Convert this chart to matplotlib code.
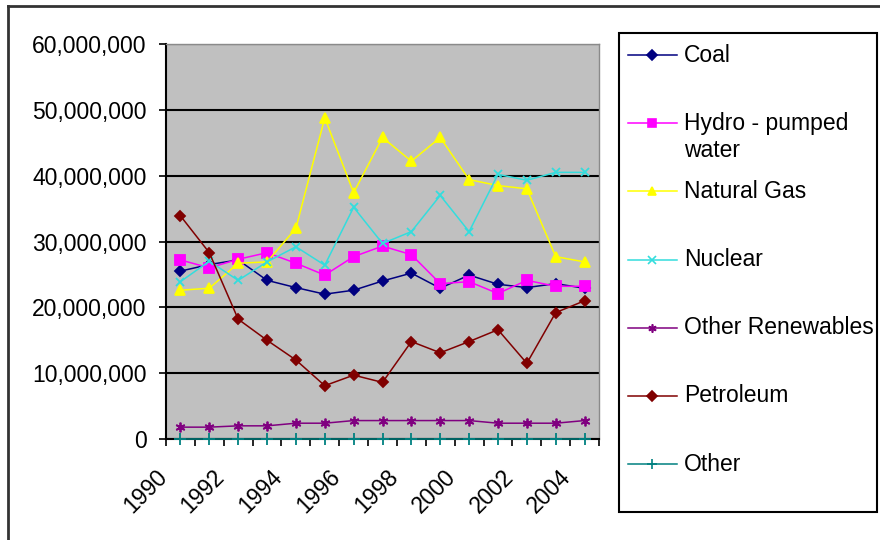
import matplotlib
matplotlib.use("Agg")
from matplotlib import pyplot as plt
from matplotlib.lines import Line2D
from matplotlib.patches import Rectangle
from matplotlib.ticker import FuncFormatter
import matplotlib.transforms as mtransforms
import numpy as np

plt.rcParams['font.family'] = ['Liberation Sans', 'DejaVu Sans']

# Values in millions
years = list(range(1990, 2005))
coal = [25.5, 26.5, 27.2, 24.1, 23.0, 22.0, 22.6, 24.0, 25.2, 22.9, 24.9, 23.5, 23.0, 23.6, 22.9]
hydro = [27.2, 26.0, 27.3, 28.3, 26.7, 24.9, 27.7, 29.3, 28.0, 23.6, 23.9, 22.1, 24.1, 23.2, 23.2]
natural_gas = [22.6, 22.9, 26.7, 26.9, 32.0, 48.8, 37.4, 45.8, 42.2, 45.8, 39.4, 38.5, 38.0, 27.7, 26.9]
nuclear = [23.9, 27.0, 24.1, 26.9, 29.2, 26.4, 35.2, 29.7, 31.5, 37.0, 31.5, 40.2, 39.3, 40.5, 40.5]
other_renewables = [1.8, 1.8, 2.0, 2.0, 2.4, 2.4, 2.8, 2.8, 2.8, 2.8, 2.8, 2.4, 2.4, 2.4, 2.8]
petroleum = [33.9, 28.3, 18.2, 15.0, 12.0, 8.1, 9.7, 8.6, 14.8, 13.1, 14.8, 16.6, 11.5, 19.2, 21.0]
other = [0.0] * 15

series_names = ["Coal", "Hydro - pumped\nwater", "Natural Gas", "Nuclear",
                "Other Renewables", "Petroleum", "Other"]
series_values = [coal, hydro, natural_gas, nuclear, other_renewables, petroleum, other]
series_colors = ['#000080', '#FF00FF', '#FFFF00', '#33DDDD', '#800080', '#800000', '#008080']
series_markers = ['D', 's', '^', 'x', (6, 2, 0), 'D', '+']
marker_sizes = [5.5, 6.5, 7.5, 6, 7, 5.5, 8]

W, H = 880, 540
fig = plt.figure(figsize=(W / 100, H / 100), dpi=100)
ax = fig.add_axes([166 / W, 1 - 439 / H, (599 - 166) / W, (439 - 44) / H])
ax.set_facecolor('#C0C0C0')

x = np.arange(len(years))
for vals, color, marker, ms in zip(series_values, series_colors, series_markers, marker_sizes):
    ax.plot(x, np.array(vals) * 1e6, color=color, marker=marker, ms=ms, lw=1.1,
            mec=color, mfc=color, mew=1.3, clip_on=False, zorder=3)

ax.set_xlim(-0.5, len(years) - 0.5)
ax.set_ylim(0, 60e6)
ax.set_yticks(np.arange(0, 60e6 + 1, 10e6))
ax.yaxis.set_major_formatter(FuncFormatter(lambda v, p: f'{v:,.0f}'))
ax.grid(axis='y', color='black', lw=1.5)
ax.set_axisbelow(True)

for side in ['left', 'bottom']:
    ax.spines[side].set_color('black')
    ax.spines[side].set_linewidth(1.5)
for side in ['top', 'right']:
    ax.spines[side].set_color('#8a8a8a')
    ax.spines[side].set_linewidth(1.0)

ax.tick_params(axis='y', direction='out', length=5, width=1.2, pad=9, labelsize=16.5)

# year labels every other category, tick marks between categories
ax.set_xticks(x[::2])
ax.set_xticklabels([str(y) for y in years[::2]])
ax.set_xticks(np.arange(-0.5, len(years)), minor=True)
ax.tick_params(axis='x', which='major', length=0, pad=19, labelsize=16.5)
ax.tick_params(axis='x', which='minor', direction='out', length=5, width=1.2)
shift = mtransforms.ScaledTranslation(-9 / 100, 0, fig.dpi_scale_trans)
for lab in ax.get_xticklabels():
    lab.set_rotation(45)
    lab.set_ha('right')
    lab.set_va('top')
    lab.set_transform(lab.get_transform() + shift)

# outer chart border (left and top visible)
fig.add_artist(Line2D([8 / W, 8 / W], [0, 1 - 6 / H], color='#333333', lw=2, transform=fig.transFigure))
fig.add_artist(Line2D([8 / W, 1], [1 - 6 / H, 1 - 6 / H], color='#333333', lw=2, transform=fig.transFigure))

# legend box drawn by hand, Excel style
fig.add_artist(Rectangle((619 / W, 1 - 512 / H), (877 - 619) / W, (512 - 33) / H,
                         facecolor='white', edgecolor='black', lw=1.5, transform=fig.transFigure))
for i, (name, color, marker, ms) in enumerate(zip(series_names, series_colors, series_markers, marker_sizes)):
    yy = 55 + i * 68.2
    fig.add_artist(Line2D([628 / W, 677 / W], [1 - yy / H, 1 - yy / H], color=color, lw=1.1,
                          transform=fig.transFigure))
    fig.add_artist(Line2D([652 / W], [1 - yy / H], color=color, marker=marker, ms=ms * 0.85,
                          mec=color, mfc=color, mew=1.2, transform=fig.transFigure))
    for j, line in enumerate(name.split('\n')):
        fig.text(684 / W, 1 - (yy + j * 27) / H, line, fontsize=16.5, va='center', ha='left')

fig.savefig('out.png', dpi=100, facecolor='white')
